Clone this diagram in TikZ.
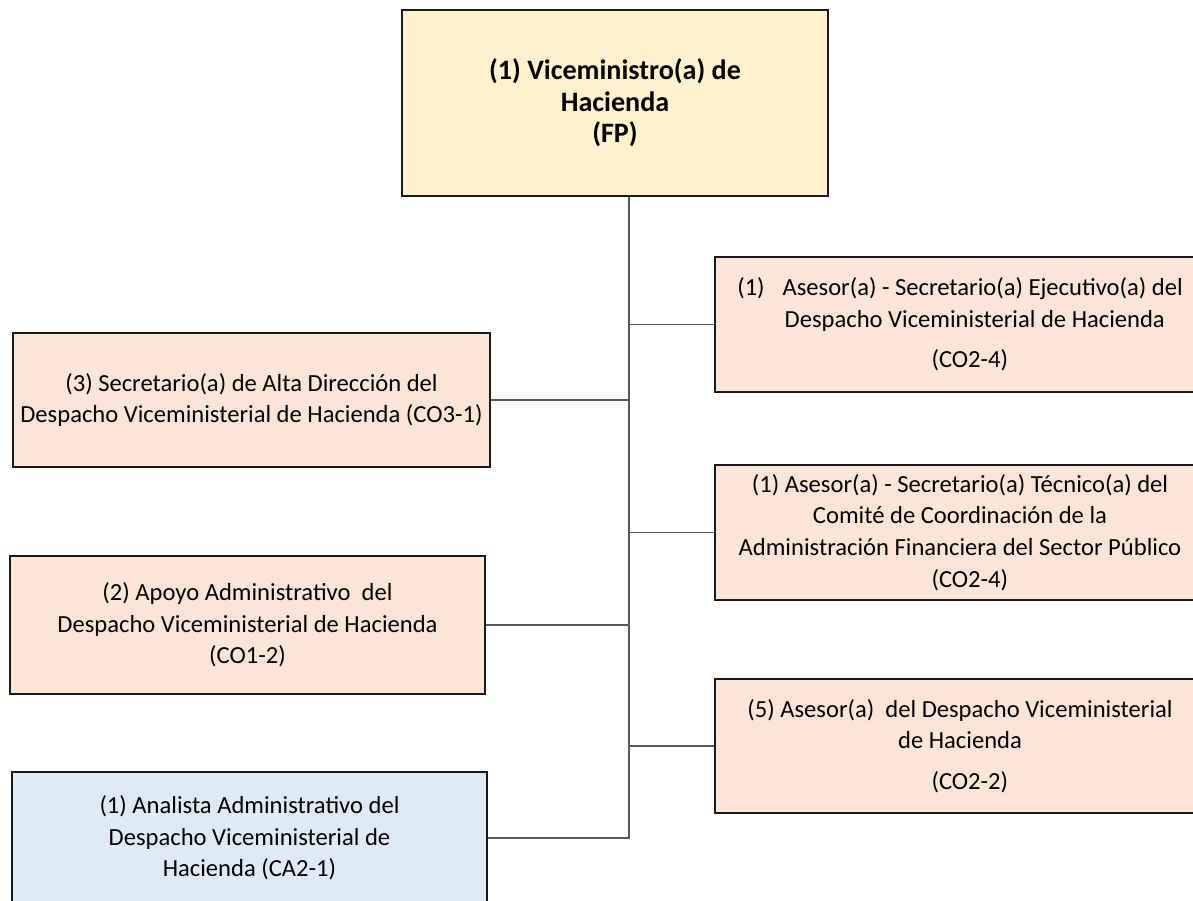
\documentclass[tikz,border=0pt]{standalone}
\usepackage{fontspec}
\setmainfont{Carlito}
\usetikzlibrary{calc}

\definecolor{fondoVM}{HTML}{FFF2CC}
\definecolor{fondoCO}{HTML}{FBE5D6}
\definecolor{fondoCA}{HTML}{DEEBF7}

\begin{document}
\begin{tikzpicture}[x=0.02cm,y=-0.02cm,
  caja/.style={draw=black!90,line width=1.1pt,align=center,inner sep=0pt,
    font=\fontsize{14}{18}\selectfont},
  jefe/.style={caja,fill=fondoVM,font=\bfseries\fontsize{16}{18}\selectfont},
  puestoCO/.style={caja,fill=fondoCO},
  puestoCA/.style={caja,fill=fondoCA},
  linea/.style={draw=black!65,line width=0.8pt}]
%\draw[thin,gray] (0,0) grid[step=100] (1193,901);
\useasboundingbox (0,0) rectangle (1193,901);
\clip (0,0) rectangle (1193,901);

\coordinate (tronco) at (629,838);

\node[jefe,minimum width=8.52cm,minimum height=3.72cm] (vm) at (615,103)
  {(1) Viceministro(a) de\\Hacienda\\(FP)};

% lado derecho
\node[puestoCO,minimum width=9.8cm,minimum height=2.7cm] (ejec) at (960,324.5)
  {(1)\enspace\ Asesor(a) - Secretario(a) Ejecutivo(a) del\\\hspace*{1.2em}Despacho Viceministerial de Hacienda\\[5pt]\hspace*{0.8em}(CO2-4)};
\node[puestoCO,minimum width=9.8cm,minimum height=2.7cm] (tecn) at (960,532.5)
  {(1) Asesor(a) - Secretario(a) Técnico(a) del\\Comité de Coordinación de la\\Administración Financiera del Sector Público\\\hspace*{0.8em}(CO2-4)};
\node[puestoCO,minimum width=9.8cm,minimum height=2.68cm] (ases) at (960,746)
  {(5) Asesor(a)\ \ del Despacho Viceministerial\\de Hacienda\\[5pt]\hspace*{0.8em}(CO2-2)};

% lado izquierdo
\node[puestoCO,minimum width=9.54cm,minimum height=2.68cm] (secr) at (251.5,400)
  {(3) Secretario(a) de Alta Dirección del\\Despacho Viceministerial de Hacienda (CO3-1)};
\node[puestoCO,minimum width=9.5cm,minimum height=2.76cm] (apoyo) at (247.5,625)
  {(2) Apoyo Administrativo\ \ del\\Despacho Viceministerial de Hacienda\\(CO1-2)};
\node[puestoCA,minimum width=9.5cm,minimum height=2.64cm] (anal) at (249.5,838)
  {(1) Analista Administrativo del\\Despacho Viceministerial de\\Hacienda (CA2-1)};

\draw[linea] (vm.south -| tronco) |- (anal);
\foreach \p in {ejec,tecn,ases,secr,apoyo}
  \draw[linea] (\p) -- (\p -| tronco);

\end{tikzpicture}
\end{document}
